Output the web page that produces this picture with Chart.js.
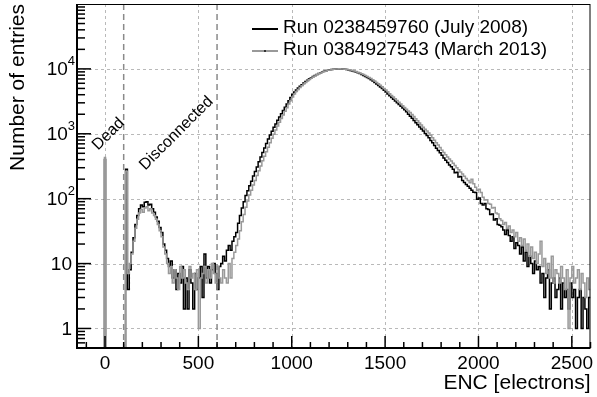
<!DOCTYPE html>
<html>
<head>
<meta charset="utf-8">
<script src="https://cdn.jsdelivr.net/npm/chart.js@4"></script>
<style>
    html, body { margin: 0; padding: 0; background: #fff; }
    canvas { display: block; }
</style>
</head>
<body>
<canvas id="encChart" width="597" height="397"></canvas>
<script>
const runLabels = ["Run 0238459760 (July 2008)", "Run 0384927543 (March 2013)"];

// histogram bins: 10 electrons wide, first bin starts at 120
const binWidth = 10;
const firstBin = 120;

// narrow bins for dead (0) and disconnected (~115) channels
const spikeLow = [-3, 110];
const spikeHigh = [3, 120];
const spikeJuly = [400, 285];
const spikeMarch = [430, 265];

// one row = 100 electrons
const countsJuly = [
    4, 8, 15, 25, 40, 55, 70, 80, 75, 88,
    90, 80, 82, 70, 62, 52, 45, 36, 30, 20,
    16, 12, 9, 11, 6, 8, 4, 7, 5, 9,
    2, 6, 2, 8, 5, 2, 7, 4, 6, 9,
    3, 14, 6, 9, 5, 8, 10, 7, 4, 9,
    10, 13, 11, 16, 19, 16, 22, 26, 30, 42,
    55, 72, 90, 112, 132, 158, 186, 224, 263, 309,
    372, 437, 513, 603, 708, 832, 955, 1096, 1259, 1413,
    1620, 1820, 2040, 2290, 2570, 2880, 3240, 3630, 4070, 4420,
    4740, 5060, 5380, 5710, 6040, 6370, 6700, 7020, 7330, 7640,
    7940, 8230, 8500, 8750, 8990, 9200, 9400, 9570, 9700, 9820,
    9910, 9970, 10000, 10000, 9970, 9920, 9850, 9750, 9620, 9480,
    9310, 9130, 8920, 8700, 8460, 8200, 7940, 7660, 7380, 7080,
    6790, 6480, 6180, 5870, 5570, 5270, 4970, 4680, 4390, 4110,
    3850, 3610, 3400, 3190, 3000, 2820, 2650, 2490, 2340, 2190,
    2000, 1860, 1740, 1600, 1480, 1380, 1270, 1180, 1100, 1010,
    940, 870, 790, 725, 660, 600, 555, 510, 465, 425,
    390, 360, 330, 310, 285, 250, 255, 215, 220, 190,
    178, 165, 155, 145, 135, 126, 125, 98, 102, 84,
    80, 84, 70, 68, 57, 58, 47, 49, 40, 39,
    37, 33, 28, 33, 27, 22, 26, 17, 21, 19,
    14, 18, 11, 15, 9, 13, 10, 7, 11, 8,
    9, 5, 7, 3, 6, 8, 2, 5, 6, 3,
    4, 6, 2, 5, 3, 4, 2, 5, 3, 4,
    1, 3, 4, 1, 3, 2, 1, 3
];

const countsMarch = [
    7, 10, 14, 22, 35, 48, 60, 68, 62, 72,
    75, 65, 70, 60, 55, 48, 40, 32, 26, 18,
    14, 10, 7, 9, 5, 8, 6, 4, 9, 6,
    8, 5, 4, 9, 6, 7, 4, 8, 1, 6,
    7, 9, 5, 8, 6, 10, 7, 5, 9, 6,
    5, 8, 6, 5, 10, 6, 12, 15, 19, 24,
    32, 44, 57, 74, 92, 114, 135, 162, 190, 228,
    270, 318, 385, 450, 528, 620, 730, 855, 980, 1140,
    1320, 1510, 1720, 1950, 2220, 2520, 2880, 3240, 3700, 4100,
    4480, 4820, 5150, 5490, 5830, 6170, 6510, 6850, 7170, 7490,
    7800, 8100, 8380, 8640, 8890, 9110, 9320, 9500, 9650, 9780,
    9880, 9960, 10000, 10020, 10000, 9960, 9900, 9820, 9710, 9590,
    9450, 9280, 9090, 8880, 8660, 8420, 8170, 7910, 7640, 7360,
    7080, 6790, 6490, 6190, 5890, 5590, 5290, 5000, 4720, 4430,
    4150, 3900, 3680, 3460, 3250, 3060, 2880, 2710, 2550, 2390,
    2250, 2120, 1980, 1840, 1710, 1590, 1470, 1360, 1260, 1170,
    1100, 1030, 950, 870, 795, 730, 670, 615, 560, 515,
    475, 440, 410, 380, 350, 325, 300, 280, 258, 240,
    222, 205, 190, 176, 200, 170, 150, 135, 140, 125,
    105, 95, 96, 84, 82, 72, 73, 60, 58, 49,
    46, 40, 43, 35, 38, 30, 33, 26, 30, 22,
    25, 19, 24, 16, 20, 13, 18, 12, 15, 10,
    14, 22, 9, 12, 7, 10, 6, 13, 5, 8,
    7, 5, 9, 6, 4, 8, 1, 6, 9, 5,
    6, 8, 4, 7, 5, 3, 6, 4
];

const xTicks = [0, 500, 1000, 1500, 2000, 2500];
const xTickLabels = ["0", "500", "1000", "1500", "2000", "2500"];
const yTicks = [1, 10, 100, 1000, 10000];
const yTickBase = ["1", "10", "10", "10", "10"];
const yTickExp = ["", "", "2", "3", "4"];

const cutValues = [100, 600];
const cutLabels = ["Dead", "Disconnected"];

const X_MIN = -150, X_MAX = 2600;
const Y_MIN = 0.5, Y_MAX = 1e5;
const FONT = "'Liberation Sans', Arial, Helvetica, sans-serif";

// step points (bin low edges); empty bins sit on the bottom of the frame
function toSteps(spikes, counts) {
    const pts = [{ x: X_MIN, y: Y_MIN }];
    spikes.forEach((c, i) => {
        pts.push({ x: spikeLow[i], y: c });
        if (spikeHigh[i] !== firstBin) pts.push({ x: spikeHigh[i], y: Y_MIN });
    });
    counts.forEach((c, i) => {
        pts.push({ x: firstBin + i * binWidth, y: c > 0 ? c : Y_MIN });
    });
    pts.push({ x: firstBin + counts.length * binWidth, y: counts[counts.length - 1] });
    return pts;
}

function line(ctx, x1, y1, x2, y2) {
    ctx.beginPath();
    ctx.moveTo(x1, y1);
    ctx.lineTo(x2, y2);
    ctx.stroke();
}

const rootStyle = {
    id: "rootStyle",
    beforeDatasetsDraw(chart) {
        const { ctx, chartArea: a, scales: { x, y } } = chart;
        ctx.save();
        ctx.strokeStyle = "#b9b9b9";
        ctx.lineWidth = 1;
        ctx.setLineDash([3, 3]);
        xTicks.forEach(v => {
            const px = Math.round(x.getPixelForValue(v)) + 0.5;
            line(ctx, px, a.top, px, a.bottom);
        });
        yTicks.forEach(v => {
            const py = Math.round(y.getPixelForValue(v)) + 0.5;
            line(ctx, a.left, py, a.right, py);
        });
        ctx.restore();
    },
    afterDatasetsDraw(chart) {
        const { ctx, chartArea: a, scales: { x, y } } = chart;
        ctx.save();

        // cut lines
        ctx.strokeStyle = "#8a8a8a";
        ctx.lineWidth = 1.5;
        ctx.setLineDash([6, 4]);
        cutValues.forEach(v => {
            const px = x.getPixelForValue(v);
            line(ctx, px, a.top, px, a.bottom);
        });
        ctx.setLineDash([]);

        // rotated labels
        ctx.fillStyle = "#000";
        ctx.font = "16px " + FONT;
        ctx.textAlign = "left";
        ctx.textBaseline = "alphabetic";
        const anchors = [[-37, 550], [215, 270]];
        cutLabels.forEach((t, i) => {
            ctx.save();
            ctx.translate(x.getPixelForValue(anchors[i][0]), y.getPixelForValue(anchors[i][1]));
            ctx.rotate(-Math.PI / 4);
            ctx.fillText(t, 0, 0);
            ctx.restore();
        });

        // frame
        ctx.strokeStyle = "#000";
        ctx.lineWidth = 1;
        ctx.strokeRect(a.left + 0.5, a.top + 0.5, a.right - a.left - 1, a.bottom - a.top - 1);
        ctx.lineWidth = 2;
        line(ctx, a.left, a.top, a.left, a.bottom + 1);
        line(ctx, a.left - 1, a.bottom, a.right, a.bottom);

        // y ticks (inside)
        ctx.lineWidth = 1.5;
        for (let e = -1; e < 5; e++) {
            for (let k = 1; k < 10; k++) {
                const v = k * Math.pow(10, e);
                if (v < Y_MIN || v > Y_MAX) continue;
                const py = y.getPixelForValue(v);
                line(ctx, a.left, py, a.left + (k === 1 ? 14 : 8), py);
            }
        }
        // x ticks (inside)
        for (let v = -100; v <= X_MAX; v += 100) {
            const px = x.getPixelForValue(v);
            line(ctx, px, a.bottom, px, a.bottom - (v % 500 === 0 ? 12 : 6));
        }

        // y tick labels, 10^n style
        ctx.textAlign = "right";
        ctx.textBaseline = "middle";
        yTicks.forEach((v, i) => {
            const py = y.getPixelForValue(v);
            if (yTickExp[i]) {
                ctx.font = "13px " + FONT;
                const w = ctx.measureText(yTickExp[i]).width;
                ctx.fillText(yTickExp[i], a.left - 2, py - 7);
                ctx.font = "19px " + FONT;
                ctx.fillText(yTickBase[i], a.left - 2 - w, py + 1);
            } else {
                ctx.font = "19px " + FONT;
                ctx.fillText(yTickBase[i], a.left - 5, py + 1);
            }
        });

        // legend
        const lx = 252, ly = [29, 51];
        ctx.lineWidth = 2;
        ctx.strokeStyle = "#000";
        line(ctx, lx, ly[0], lx + 26, ly[0]);
        ctx.strokeStyle = "#999";
        line(ctx, lx, ly[1], lx + 26, ly[1]);
        ctx.fillStyle = "#333";
        ctx.fillRect(lx + 12, ly[1] - 1, 2, 2);
        ctx.fillStyle = "#000";
        ctx.font = "19px " + FONT;
        ctx.textAlign = "left";
        ctx.textBaseline = "middle";
        runLabels.forEach((t, i) => ctx.fillText(t, lx + 31, ly[i] - 1));

        ctx.restore();
    }
};

Chart.defaults.font.family = FONT;
Chart.defaults.color = "#000";

new Chart(document.getElementById("encChart"), {
    type: "line",
    data: {
        datasets: [
            {
                label: runLabels[0],
                data: toSteps(spikeJuly, countsJuly),
                borderColor: "#000",
                borderWidth: 1.5,
                stepped: true,
                pointRadius: 0,
                order: 1
            },
            {
                label: runLabels[1],
                data: toSteps(spikeMarch, countsMarch),
                borderColor: "#999",
                borderWidth: 1.5,
                stepped: true,
                pointRadius: 0,
                order: 0
            }
        ]
    },
    options: {
        responsive: false,
        animation: false,
        layout: { padding: { top: 4, right: 1, left: 0, bottom: 0 } },
        plugins: {
            legend: { display: false },
            tooltip: { enabled: false }
        },
        scales: {
            x: {
                type: "linear",
                min: X_MIN,
                max: X_MAX,
                afterBuildTicks: s => { s.ticks = xTicks.map(v => ({ value: v })); },
                afterFit: s => { s.height = 49; },
                grid: { display: false, drawTicks: false },
                border: { display: false },
                ticks: {
                    padding: 4,
                    maxRotation: 0,
                    font: { size: 19 },
                    callback: (v) => xTickLabels[xTicks.indexOf(v)]
                },
                title: {
                    display: true,
                    text: "ENC [electrons]",
                    align: "end",
                    font: { size: 21 },
                    padding: { top: 0, bottom: 1 }
                }
            },
            y: {
                type: "logarithmic",
                min: Y_MIN,
                max: Y_MAX,
                afterBuildTicks: s => { s.ticks = yTicks.map(v => ({ value: v })); },
                afterFit: s => { s.width = 77; },
                grid: { display: false, drawTicks: false },
                border: { display: false },
                ticks: { display: false },
                title: {
                    display: true,
                    text: "Number of entries",
                    align: "end",
                    font: { size: 21 },
                    padding: { top: 6, bottom: 0 }
                }
            }
        }
    },
    plugins: [rootStyle]
});
</script>
</body>
</html>
